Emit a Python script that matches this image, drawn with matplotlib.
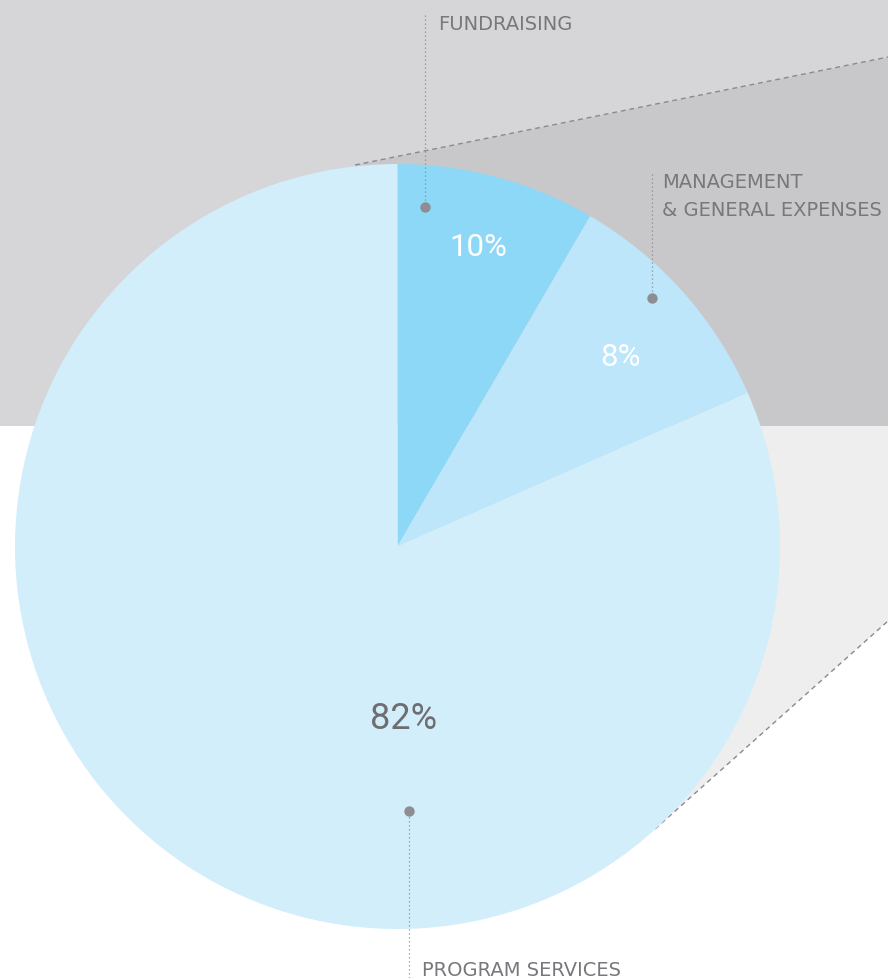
import numpy as np
import matplotlib.pyplot as plt
from matplotlib.patches import Rectangle, Polygon

plt.rcParams['font.family'] = ['Roboto', 'DejaVu Sans']

# slice shares as drawn, and the printed percentages
categories = ['FUNDRAISING', 'MANAGEMENT\n& GENERAL EXPENSES', 'PROGRAM SERVICES']
shares = [8.4, 10.0, 81.6]
pct_labels = ['10%', '8%', '82%']
colors = ['#8dd8f7', '#bde6fa', '#d2eefa']

W, H = 888, 979
fig = plt.figure(figsize=(W / 100, H / 100), dpi=100)
ax = fig.add_axes([0, 0, 1, 1])

def py(y):
    # pixel row (from top) -> data y
    return H - y

cx, cy, r = 397.5, py(547.5), 382.5

# background bands
top_band = Rectangle((0, py(427)), W, 427, facecolor='#d6d6d9', edgecolor='none', zorder=0)
ax.add_patch(top_band)

# zoom cone behind the pie
cone_pts = [(355, py(166)), (W, py(58)), (W, py(622)), (655, py(830)), (cx, cy)]
ax.add_patch(Polygon(cone_pts, closed=True, facecolor='#eeeeee', edgecolor='none', zorder=1))
cone_top = Polygon(cone_pts, closed=True, facecolor='#c8c8cb', edgecolor='none', zorder=1)
ax.add_patch(cone_top)
cone_top.set_clip_path(top_band)

ax.plot([355, W], [py(166), py(58)], color='#8a8a8e', lw=1.0, dashes=(3.5, 2.8), zorder=2)
ax.plot([655, W], [py(830), py(622)], color='#8a8a8e', lw=1.0, dashes=(3.5, 2.8), zorder=2)

ax.pie(shares, colors=colors, startangle=90, counterclock=False,
       center=(cx, cy), radius=r, wedgeprops=dict(linewidth=0, zorder=3))

# percentages
ax.text(478, py(247), pct_labels[0], color='white', fontsize=22.5, ha='center', va='center', zorder=5)
ax.text(620, py(357), pct_labels[1], color='white', fontsize=22.5, ha='center', va='center', zorder=5)
ax.text(404, py(719), pct_labels[2], color='#6e6e72', fontsize=26, ha='center', va='center', zorder=5)

# leader lines, dots and category labels
dot_c = '#8e8e92'
txt_c = '#78787c'
lab_font = dict(family=['DejaVu Sans'], fontsize=14, color=txt_c, ha='left', va='baseline', zorder=6)
leaders = [((425, 16), (425, 208)), ((652, 175), (652, 299)), ((409, 979), (409, 812))]
for (x0, y0), (x1, y1) in leaders:
    ax.plot([x0, x1], [py(y0), py(y1)], color=dot_c, lw=0.9, ls=(0, (1, 2.2)), zorder=6)
    ax.plot(x1, py(y1), 'o', color=dot_c, ms=7.5, mec='none', zorder=7)

ax.text(438, py(30), categories[0], **lab_font)
ax.text(662, py(216), categories[1], linespacing=1.6, **lab_font)
ax.text(422, py(976), categories[2], **lab_font)

ax.set_xlim(0, W)
ax.set_ylim(0, H)
ax.set_aspect('auto')
ax.axis('off')

fig.savefig('out.png', dpi=100, facecolor='white')
